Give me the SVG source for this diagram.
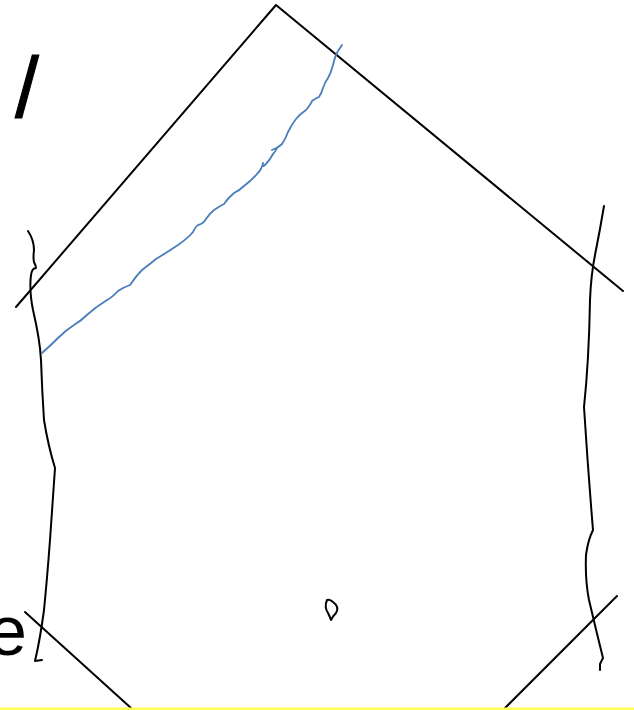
<svg xmlns="http://www.w3.org/2000/svg" width="634" height="710" viewBox="0 0 634 710">
<style>
.ln{fill:none;stroke:#000;stroke-width:2;stroke-linecap:round;stroke-linejoin:round}
.ink{fill:none;stroke:#000;stroke-width:2;stroke-linecap:round;stroke-linejoin:round}
.blue{fill:none;stroke:#4a7ebb;stroke-width:1.8;stroke-linecap:round;stroke-linejoin:round}
.txt{font-family:"Liberation Sans",Arial,sans-serif;fill:#000}
</style>
<rect x="0" y="0" width="634" height="710" fill="#fff"/>
<g id="frame">
<path class="ln" d="M16,307 L276,5 L623,291"/>
<path class="ln" d="M25,612 L131,708"/>
<path class="ln" d="M617,596 L505,708"/>
</g>
<g id="left-stroke">
<path class="ink" d="M28,231 Q34,240 34,250 Q33,258 34,262 Q36,266 36,268 Q32,268 31,275 Q29,290 33,310 Q40,340 41,360 Q42,390 44,420 Q48,445 55,468 Q52,510 50,540 Q47,580 44,610 Q40,640 35,661 L42,660"/>
</g>
<g id="right-stroke">
<path class="ink" d="M604,206 Q600,230 595,255 Q591,275 590,300 Q589,360 584,407 Q588,470 593,530 Q588,540 586,555 Q585,580 589,600 Q596,630 603,658 L600,664 L600,670"/>
</g>
<g id="blue-stroke">
<path class="blue" d="M42,353 Q50,346 58,338 Q66,330 74,325 Q82,320 88,314 Q96,307 104,302 Q114,296 118,291 Q124,287 130,285 Q136,276 142,270 Q150,264 156,259 Q166,253 178,245 Q188,238 193,232 Q196,226 198,225 Q203,224 206,219 Q210,213 214,210 Q220,206 224,204 Q228,198 234,193 Q240,190 244,186 Q252,180 257,174 Q262,169 263,163 Q262,168 265,165 Q270,160 273,154 Q276,151 277,148 L272,150 Q278,148 282,144 Q286,138 288,132 Q292,124 296,119 Q300,114 306,110 Q311,104 312,101 Q316,98 319,97 Q322,92 323,88 Q325,82 328,78 Q331,73 333,65 Q335,56 338,51 L342,45"/>
</g>
<g id="mark">
<path class="ink" d="M327,600 Q324,607 328,613 Q330,617 331,620 Q333,616 336,613 Q340,607 333,602 Q330,599 327,600 Z"/>
</g>
<g id="labels">
<text class="txt" x="15" y="117" font-size="86" stroke="#000" stroke-width="1">/</text>
<text class="txt" x="-12" y="655" font-size="70">e</text>
</g>
<rect x="0" y="707.5" width="634" height="2.5" fill="#ffff55"/>
</svg>
